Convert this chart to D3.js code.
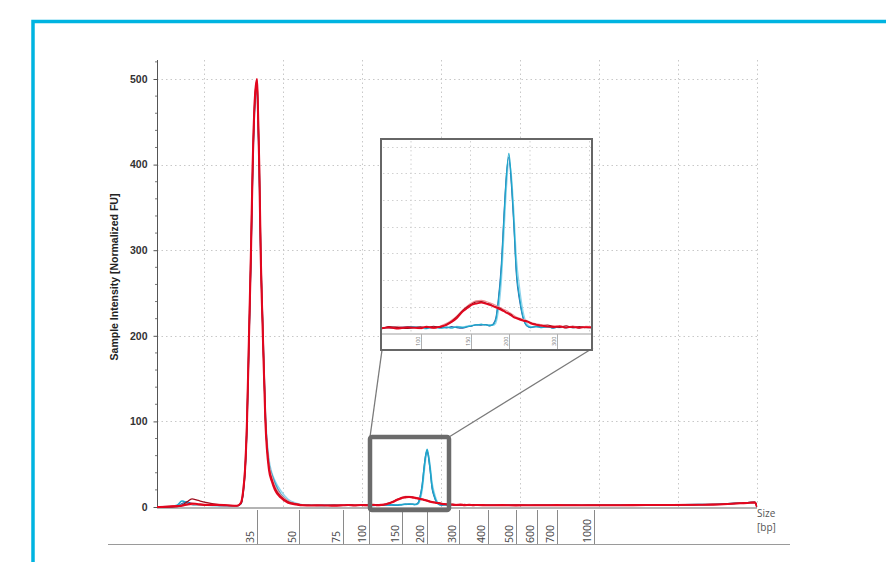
<!DOCTYPE html>
<html><head><meta charset="utf-8">
<script src="https://cdn.jsdelivr.net/npm/d3@7"></script>
<style>
html,body{margin:0;padding:0;background:#fff;}
svg{display:block;}
</style></head>
<body>
<svg id="chart" width="886" height="562"></svg>
<script>
// ---------------- DATA ----------------
const yTicks = [0, 100, 200, 300, 400, 500];
const xTickBp = [35, 50, 75, 100, 150, 200, 300, 400, 500, 600, 700, 1000];
const xTickLabels = ["35", "50", "75", "100", "150", "200", "300", "400", "500", "600", "700", "1000"];
const insetTickBp = [100, 150, 200, 300];
const insetTickLabels = ["100", "150", "200", "300"];
const axisTitleY = "Sample Intensity [Normalized FU]";
const axisTitleX = ["Size", "[bp]"];
const lowerEndBp = 25, upperEndBp = 10380;

// shared size grid (bp)
const sizeBp = [
 25, 26, 27, 27.5, 28, 28.5, 29, 30, 31, 32, 33, 33.4, 33.63, 33.8, 34.0, 34.2, 34.4, 34.57, 34.8, 35,
 35.3, 35.8, 36.3, 37.1, 38.0, 39.3, 40.3, 41.4, 43.5, 46.1, 49, 52, 57, 63, 70, 75,
 80, 86, 92, 100, 106, 113, 120, 126, 131, 136, 142, 147, 151, 157, 164, 170, 175, 179.4, 183, 186,
 190.3, 193.8, 196.8, 200.4, 205.3, 210.3, 215.7, 222.6, 229.4, 238.3, 245, 257, 268, 280, 291, 305,
 320, 335, 350, 365,
 400, 450, 500, 560, 620, 700, 800, 900, 1000, 2500, 4000, 5500, 7000, 7848, 8700, 9402, 9977, 10265, 10380
];

const blueLight = [
 0, 0.5, 1.5, 3, 4, 3, 2.5, 2, 1.8, 1.6, 1.3, 4, 17, 40, 95, 192, 292, 392, 470, 488,
 462, 396, 304, 210, 112, 56, 40, 31, 19, 9, 4.5, 2.6, 2.2, 1.9, 2.2, 2.0,
 2.2, 2.7, 2.1, 2.5, 2.0, 2.6, 2.2, 2.6, 2.0, 2.7, 2.4, 2.9, 3.1, 3.0, 3.5, 3.1, 3.3, 3.0, 3.8, 7.5,
 19, 37, 53, 64, 60, 47, 29, 17, 8.5, 3.5, 2.6, 2.4, 2.8, 2.3, 2.6, 2.2,
 2.6, 2.1, 2.5, 2.3,
 2.1, 2.3, 2.0, 2.2, 2.1, 2.3, 2.1, 2.2, 2.0, 2.3, 2.5, 2.6, 2.9, 3.1, 3.8, 4.6, 5.3, 5.5, 0
];
const blueDark = [
 0, 0, 1, 4, 6, 4, 3, 2.2, 1.8, 1.5, 1.2, 4, 19, 42, 98, 197, 297, 397, 474, 492,
 465, 398, 301, 204, 104, 47, 34, 24, 13, 6, 3.2, 2.1, 1.9, 2.1, 1.8, 2.2,
 1.9, 2.3, 2.6, 2.0, 2.4, 1.9, 2.5, 2.1, 2.6, 2.2, 2.0, 2.5, 2.7, 3.3, 3.1, 3.4, 2.8, 3.5, 5.8, 12,
 26, 45, 59, 66, 56, 41, 22, 12, 5.8, 2.7, 2.2, 2.7, 2.3, 2.6, 2.0, 2.5,
 2.2, 2.7, 2.1, 2.6,
 2.0, 2.1, 2.2, 2.0, 2.2, 2.0, 2.2, 2.0, 2.2, 2.1, 2.2, 2.5, 2.7, 2.9, 3.6, 4.4, 5.1, 5.3, 0
];
const blueCyan = [
 0, 0, 2, 7, 5, 3, 2.5, 2, 1.8, 1.5, 1.2, 4, 19, 42, 98, 198, 298, 398, 476, 494,
 466, 398, 302, 206, 106, 50, 38, 28, 15, 7, 3.5, 2.2, 2.0, 1.8, 2.0, 1.9,
 2.4, 2.0, 2.6, 2.2, 1.8, 2.4, 2.0, 2.3, 2.1, 2.5, 2.3, 2.6, 2.9, 3.2, 3.4, 3.2, 3.0, 3.3, 5.0, 10.7,
 24, 43, 58, 67.5, 58, 43, 24, 13.3, 6.3, 2.8, 2.4, 2.6, 2.2, 2.5, 2.1, 2.4,
 2.2, 2.6, 2.2, 2.5,
 2.1, 2.0, 2.2, 2.1, 2.0, 2.2, 2.0, 2.1, 2.1, 2.0, 2.3, 2.4, 2.8, 3.0, 3.7, 4.5, 5.2, 5.4, 0
];
const redPink = [
 0, 1, 1.5, 2, 2.5, 3, 2.5, 2, 2, 1.8, 1.2, 6, 22, 46, 104, 205, 305, 405, 482, 496,
 474, 405, 308, 210, 108, 50, 36, 25, 14, 7, 3.8, 2.5, 2.1, 1.9, 1.8, 2.2,
 2.0, 2.6, 2.2, 1.8, 2.4, 1.9, 2.8, 3.8, 5.0, 6.5, 8.8, 10.4, 11.4, 12.2, 12.4, 12.0, 11.5, 11.0, 10.6, 10.1,
 9.5, 9.0, 8.6, 8.0, 7.4, 6.8, 6.2, 5.7, 5.3, 4.8, 4.2, 3.6, 3.3, 2.8, 3.0, 2.5,
 2.4, 2.8, 2.3, 2.7,
 2.1, 2.3, 2.0, 2.2, 2.1, 2.3, 2.1, 2.2, 2.1, 2.2, 2.4, 2.5, 2.7, 2.9, 3.6, 4.4, 5.1, 5.3, 0
];
const redDark = [
 0, 0, 0.5, 2, 6, 9.5, 8, 5, 3, 2, 1.5, 4, 18, 40, 96, 195, 295, 395, 478, 498,
 468, 398, 302, 205, 104, 46, 32, 22, 12, 6, 3.5, 2.3, 2.0, 1.7, 2.1, 1.8,
 2.6, 2.2, 1.9, 2.5, 2.2, 2.7, 2.3, 3.5, 4.6, 6.2, 8.6, 10.1, 11.0, 11.8, 12.0, 11.4, 11.0, 10.4, 10.0, 9.7,
 9.2, 8.5, 8.0, 7.6, 7.1, 6.3, 5.9, 5.5, 5.0, 4.6, 4.0, 3.4, 3.0, 3.2, 2.6, 2.3,
 2.9, 2.2, 2.6, 2.2,
 2.2, 1.9, 2.2, 1.9, 2.2, 2.0, 2.2, 2.0, 2.2, 2.2, 2.2, 2.5, 2.7, 3.0, 3.8, 4.6, 5.4, 5.6, 0
];
const redMain = [
 0, 0.3, 1, 1.5, 3, 4, 3.5, 2.5, 2.5, 2, 1.5, 5, 20, 43, 100, 200, 300, 400, 480, 500,
 470, 400, 300, 200, 100, 43, 30, 20, 11, 5, 3, 2, 1.8, 2.0, 1.6, 2.0,
 2.3, 1.8, 2.4, 2.0, 2.6, 2.1, 2.6, 3.2, 4.3, 5.7, 8.2, 9.6, 10.7, 11.2, 11.6, 11.2, 10.7, 10.2, 9.8, 9.4,
 8.8, 8.3, 7.8, 7.3, 6.7, 6.1, 5.7, 5.2, 4.8, 4.4, 3.8, 3.2, 2.9, 2.6, 2.4, 2.8,
 2.2, 2.5, 2.1, 2.4,
 2.0, 2.2, 1.9, 2.1, 2.0, 2.2, 2.0, 2.1, 2.0, 2.1, 2.3, 2.4, 2.6, 2.8, 3.5, 4.3, 5.0, 5.2, 0
];

const traces = [
  {name: "blueLight", values: blueLight, color: "#8fd3ec", w: 1.4},
  {name: "blueDark",  values: blueDark,  color: "#2b5fa6", w: 1.2},
  {name: "blueCyan",  values: blueCyan,  color: "#1ea8cc", w: 1.5},
  {name: "redPink",   values: redPink,   color: "#f38a90", w: 1.4},
  {name: "redDark",   values: redDark,   color: "#9e0c1c", w: 1.3},
  {name: "redMain",   values: redMain,   color: "#e2061e", w: 2.1}
];

// ---------------- LAYOUT ----------------
const svg = d3.select("#chart");
const plot = {left: 157, right: 757, top: 60, zeroY: 507, maxY: 79};
const tickPx = [157, 257, 299, 343, 369, 402, 427, 459, 488, 516, 537, 557, 594, 757];
const xDomain = [lowerEndBp, ...xTickBp, upperEndBp];

const x = d3.scaleLinear().domain(xDomain).range(tickPx);
const y = d3.scaleLinear().domain([0, 500]).range([plot.zeroY, plot.maxY]);

const FONT = "'Liberation Sans', Arial, sans-serif";
const FONT2 = "'Open Sans', 'Noto Sans', sans-serif";

svg.append("rect").attr("width", 886).attr("height", 562).attr("fill", "#fff");
// outer blue frame
svg.append("rect").attr("x", 33).attr("y", 21.5).attr("width", 900).attr("height", 600)
  .attr("fill", "none").attr("stroke", "#00b4e1").attr("stroke-width", 3.5);

// grid
const grid = svg.append("g").attr("stroke", "#c8c8c8").attr("stroke-width", 1)
  .attr("stroke-dasharray", "1.5,3");
yTicks.filter(d => d > 0).forEach(d => {
  grid.append("line").attr("x1", plot.left).attr("x2", plot.right)
    .attr("y1", Math.round(y(d)) + 0.5).attr("y2", Math.round(y(d)) + 0.5);
});
d3.range(204, 758, 79).forEach(px => {
  grid.append("line").attr("x1", px + 0.5).attr("x2", px + 0.5).attr("y1", plot.top).attr("y2", plot.zeroY);
});

// y axis
const yAxis = d3.axisLeft(y).tickValues(yTicks).tickSize(4).tickPadding(6).tickFormat(d3.format("d"));
const ya = svg.append("g").attr("transform", `translate(${plot.left + 0.5},0)`).call(yAxis);
ya.select(".domain").remove();
ya.selectAll("line").attr("stroke", "#555");
ya.selectAll("text").attr("font-family", FONT).attr("font-size", 10.5).attr("font-weight", "bold").attr("fill", "#333");
svg.append("line").attr("x1", plot.left + 0.5).attr("x2", plot.left + 0.5).attr("y1", plot.top).attr("y2", plot.zeroY)
  .attr("stroke", "#555").attr("stroke-width", 1);
const minor = d3.range(20, 521, 20).filter(d => d % 100 !== 0);
svg.append("g").selectAll("line").data(minor).join("line")
  .attr("x1", plot.left - 2).attr("x2", plot.left).attr("y1", d => y(d)).attr("y2", d => y(d))
  .attr("stroke", "#777").attr("stroke-width", 1);

svg.append("text").attr("transform", `translate(118,277) rotate(-90)`)
  .attr("text-anchor", "middle").attr("font-family", FONT).attr("font-size", 10.5)
  .attr("font-weight", "bold").attr("fill", "#222").text(axisTitleY);

// traces
svg.append("clipPath").attr("id", "mainClip").append("rect")
  .attr("x", plot.left).attr("y", plot.top).attr("width", plot.right - plot.left).attr("height", plot.zeroY - plot.top + 2);

function drawTraces(g, xs, ys, widthScale) {
  const line = d3.line().x((d, i) => xs(sizeBp[i])).y(d => ys(d)).curve(d3.curveMonotoneX);
  traces.forEach(t => {
    g.append("path").datum(t.values).attr("d", line).attr("fill", "none")
      .attr("stroke", t.color).attr("stroke-width", t.w * widthScale).attr("stroke-linejoin", "round");
  });
}

// x axis baseline
svg.append("line").attr("x1", plot.left).attr("x2", plot.right).attr("y1", plot.zeroY + 1).attr("y2", plot.zeroY + 1)
  .attr("stroke", "#b4b4b4").attr("stroke-width", 2);

const mainG = svg.append("g").attr("clip-path", "url(#mainClip)");
drawTraces(mainG, x, y, 1);

// x ticks
const xt = svg.append("g");
xTickBp.forEach((b, i) => {
  const px = Math.round(x(b)) + 0.5;
  xt.append("line").attr("x1", px).attr("x2", px).attr("y1", 510).attr("y2", 544)
    .attr("stroke", "#8a8a8a").attr("stroke-width", 1);
  xt.append("text").attr("transform", `translate(${px - 4},543) rotate(-90)`)
    .attr("font-family", FONT2).attr("font-size", 10.5).attr("fill", "#444").text(xTickLabels[i]);
});
svg.append("line").attr("x1", 108).attr("x2", 790).attr("y1", 544.5).attr("y2", 544.5)
  .attr("stroke", "#9a9a9a").attr("stroke-width", 1);
svg.append("text").attr("x", 757).attr("y", 517).attr("font-family", FONT2).attr("font-size", 10)
  .attr("fill", "#555").text(axisTitleX[0]);
svg.append("text").attr("x", 757).attr("y", 531).attr("font-family", FONT2).attr("font-size", 10)
  .attr("fill", "#555").text(axisTitleX[1]);

// zoom box + connectors
const boxC = "#6b6b6b";
const box = {x0: 370, y0: 437, x1: 449, y1: 510};
const inset = {x0: 381, y0: 139, x1: 592, y1: 350, axisY: 334};
svg.append("line").attr("x1", box.x0).attr("y1", box.y0).attr("x2", inset.x0 + 1).attr("y2", inset.y1)
  .attr("stroke", "#7a7a7a").attr("stroke-width", 1.3);
svg.append("line").attr("x1", box.x1).attr("y1", box.y0).attr("x2", inset.x1 + 1).attr("y2", inset.y1 - 2)
  .attr("stroke", "#7a7a7a").attr("stroke-width", 1.3);
svg.append("rect").attr("x", box.x0).attr("y", box.y0).attr("width", box.x1 - box.x0).attr("height", box.y1 - box.y0)
  .attr("rx", 2).attr("fill", "none").attr("stroke", boxC).attr("stroke-width", 4.5);

// inset
const ig = svg.append("g");
ig.append("rect").attr("x", inset.x0).attr("y", inset.y0).attr("width", inset.x1 - inset.x0).attr("height", inset.y1 - inset.y0)
  .attr("fill", "#fff").attr("stroke", "#666").attr("stroke-width", 2);
const zoomF = 1.52;
const xi = d3.scaleLinear().domain(xDomain).range(tickPx.map(p => inset.x0 + (p - 343) * zoomF));
const yi = d3.scaleLinear().domain([0, 10]).range([333.5, 306.8]);

const igrid = ig.append("g").attr("stroke", "#d0d0d0").attr("stroke-width", 1).attr("stroke-dasharray", "1.5,3");
d3.range(10, 71, 10).forEach(v => {
  igrid.append("line").attr("x1", inset.x0 + 2).attr("x2", inset.x1 - 1)
    .attr("y1", Math.round(yi(v)) + 0.5).attr("y2", Math.round(yi(v)) + 0.5);
});
[411, 470.5, 530, 589.5].forEach(px => {
  igrid.append("line").attr("x1", px).attr("x2", px).attr("y1", inset.y0 + 2).attr("y2", inset.axisY);
});

ig.append("clipPath").attr("id", "insetClip").append("rect")
  .attr("x", inset.x0 + 1).attr("y", inset.y0 + 1).attr("width", inset.x1 - inset.x0 - 2).attr("height", inset.axisY - inset.y0 - 1);
const insetLines = ig.append("g").attr("clip-path", "url(#insetClip)");
drawTraces(insetLines, xi, yi, 0.85);

ig.append("line").attr("x1", inset.x0 + 1).attr("x2", inset.x1 - 1).attr("y1", inset.axisY).attr("y2", inset.axisY)
  .attr("stroke", "#a0a0a0").attr("stroke-width", 1.2);
insetTickBp.forEach((b, i) => {
  const px = Math.round(xi(b)) + 0.5;
  ig.append("line").attr("x1", px).attr("x2", px).attr("y1", inset.axisY).attr("y2", inset.y1 - 1)
    .attr("stroke", "#b0b0b0").attr("stroke-width", 1);
  ig.append("text").attr("transform", `translate(${px - 1.5},346) rotate(-90)`)
    .attr("font-family", FONT2).attr("font-size", 5.5).attr("fill", "#777").text(insetTickLabels[i]);
});
</script>
</body></html>
